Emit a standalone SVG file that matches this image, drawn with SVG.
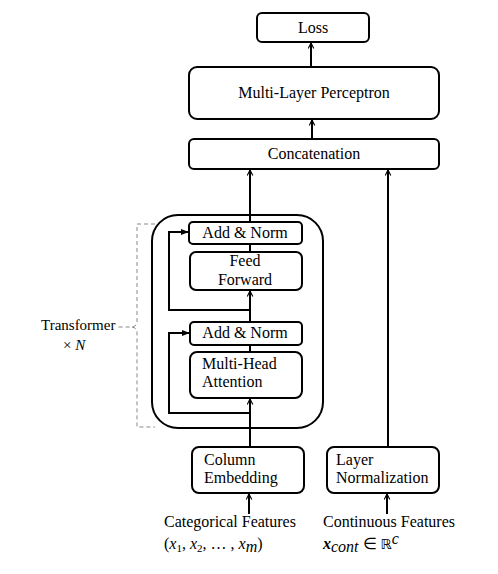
<svg xmlns="http://www.w3.org/2000/svg" width="498" height="574" viewBox="0 0 498 574">
<defs>
<style>
.box{fill:#fff;stroke:#000;stroke-width:2}
.t{font-family:"Liberation Serif","Times New Roman",serif;font-size:16px;fill:#000}
.m{font-family:"Liberation Serif","DejaVu Serif",serif;font-style:italic;font-size:16px;fill:#000}
.ln{fill:none;stroke:#000;stroke-width:2}
.dash{fill:none;stroke:#888;stroke-width:1;stroke-dasharray:4 3}
</style>
<marker id="ah" viewBox="0 0 10 10" refX="9" refY="5" markerWidth="7" markerHeight="7" orient="auto" markerUnits="userSpaceOnUse">
<path d="M1,1 L9,5 L1,9" fill="none" stroke="#000" stroke-width="1.6"/>
</marker>
<marker id="af" viewBox="0 0 10 10" refX="9" refY="5" markerWidth="8" markerHeight="8" orient="auto" markerUnits="userSpaceOnUse">
<path d="M0,1 L10,5 L0,9 z" fill="#000"/>
</marker>
</defs>
<rect width="498" height="574" fill="#fff"/>

<g id="transformer-block">
<rect class="box" x="152" y="215" width="171" height="213" rx="26"/>
</g>

<g id="connectors">
<line class="ln" x1="311" y1="67" x2="311" y2="43" marker-end="url(#ah)"/>
<line class="ln" x1="312" y1="139" x2="312" y2="120" marker-end="url(#ah)"/>
<line class="ln" x1="250" y1="222" x2="250" y2="170" marker-end="url(#ah)"/>
<line class="ln" x1="388" y1="447" x2="388" y2="170" marker-end="url(#ah)"/>
<line class="ln" x1="250" y1="252" x2="250" y2="244"/>
<line class="ln" x1="250" y1="322" x2="250" y2="291" marker-end="url(#ah)"/>
<line class="ln" x1="250" y1="352" x2="250" y2="345"/>
<line class="ln" x1="250" y1="447" x2="250" y2="399" marker-end="url(#ah)"/>
<polyline class="ln" points="250,310 169,310 169,232 188,232" marker-end="url(#af)"/>
<polyline class="ln" points="250,413 169,413 169,333 189,333" marker-end="url(#af)"/>
<line class="ln" x1="249" y1="514" x2="249" y2="494" marker-end="url(#ah)"/>
<line class="ln" x1="387" y1="514" x2="387" y2="494" marker-end="url(#ah)"/>
<path class="dash" d="M155,224 H137 V322 Q137,326 132,327 H116 M132,327 Q137,328 137,332 V427 H155"/>
</g>

<g id="loss"><rect class="box" x="257" y="13" width="112" height="29" rx="5"/>
<text class="t" x="313" y="33" text-anchor="middle">Loss</text></g>

<g id="mlp"><rect class="box" x="189" y="67" width="250" height="52" rx="8"/>
<text class="t" x="314" y="98" text-anchor="middle">Multi-Layer Perceptron</text></g>

<g id="concat"><rect class="box" x="189" y="139" width="250" height="30" rx="5"/>
<text class="t" x="314" y="159" text-anchor="middle">Concatenation</text></g>

<g id="addnorm1"><rect class="box" x="189" y="222" width="113" height="22" rx="4"/>
<text class="t" x="245" y="238" text-anchor="middle">Add &amp; Norm</text></g>

<g id="feedforward"><rect class="box" x="190" y="252" width="112" height="38" rx="6"/>
<text class="t" x="245" y="266" text-anchor="middle">Feed</text>
<text class="t" x="245" y="285" text-anchor="middle">Forward</text></g>

<g id="addnorm2"><rect class="box" x="190" y="322" width="112" height="23" rx="4"/>
<text class="t" x="245" y="338" text-anchor="middle">Add &amp; Norm</text></g>

<g id="mha"><rect class="box" x="190" y="352" width="112" height="46" rx="7"/>
<text class="t" x="202" y="369">Multi-Head</text>
<text class="t" x="202" y="387">Attention</text></g>

<g id="column-embedding"><rect class="box" x="192" y="447" width="112" height="46" rx="7"/>
<text class="t" x="204" y="465">Column</text>
<text class="t" x="204" y="483">Embedding</text></g>

<g id="layer-norm"><rect class="box" x="327" y="447" width="112" height="46" rx="7"/>
<text class="t" x="336" y="465">Layer</text>
<text class="t" x="336" y="483">Normalization</text></g>

<g id="transformer-label">
<text class="t" x="41" y="330" style="font-size:15px">Transformer</text>
<text class="t" x="63" y="350" style="font-size:15px">× <tspan font-style="italic">N</tspan></text>
</g>

<g id="cat-features">
<text class="t" x="164" y="527">Categorical Features</text>
<text class="t" x="164" y="549">(<tspan class="m">x</tspan><tspan font-size="11" dy="3">1</tspan><tspan dy="-3">, </tspan><tspan class="m">x</tspan><tspan font-size="11" dy="3">2</tspan><tspan dy="-3">, … , </tspan><tspan class="m">x</tspan><tspan class="m" font-size="11" dy="3">m</tspan><tspan dy="-3">)</tspan></text>
</g>

<g id="cont-features">
<text class="t" x="323" y="527">Continuous Features</text>
<text class="t" x="323" y="549"><tspan class="m" font-weight="bold">x</tspan><tspan class="m" font-size="11" dy="3">cont</tspan><tspan dy="-3"> ∈ </tspan><tspan font-family="DejaVu Sans" font-size="14">ℝ</tspan><tspan class="m" font-size="9" dy="-5">c</tspan></text>
</g>
</svg>
